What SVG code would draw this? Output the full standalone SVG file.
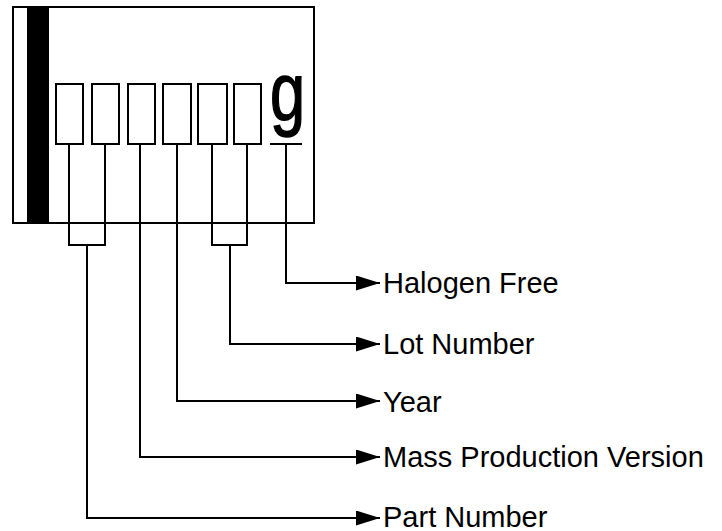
<svg xmlns="http://www.w3.org/2000/svg" width="722" height="531" viewBox="0 0 722 531">
<style>
.ln{fill:none;stroke:#000;stroke-width:2}
.bx{fill:#fff;stroke:#000;stroke-width:2}
.lbl{font-family:"Liberation Sans",Arial,sans-serif;font-size:29px;fill:#000}
</style>
<defs>
<marker id="arr" markerUnits="userSpaceOnUse" viewBox="0 0 24 15" refX="24" refY="7.5" markerWidth="24" markerHeight="15" orient="auto">
<path d="M0,0 L24,7.5 L0,15 z" fill="#000"/>
</marker>
</defs>
<rect width="722" height="531" fill="#fff"/>
<g id="chip">
<rect class="bx" x="13" y="7" width="301" height="216"/>
<rect x="27" y="7" width="22" height="216" fill="#000"/>
</g>
<g id="digits">
<rect class="bx" x="56" y="84" width="27" height="60"/>
<rect class="bx" x="92" y="84" width="27" height="60"/>
<rect class="bx" x="128" y="84" width="27" height="60"/>
<rect class="bx" x="163" y="84" width="28" height="60"/>
<rect class="bx" x="198" y="84" width="29" height="60"/>
<rect class="bx" x="234" y="84" width="27" height="60"/>
</g>
<g id="g-mark">
<text transform="translate(270,120) scale(0.78,1)" font-family="Liberation Sans,Arial,sans-serif" font-size="81" stroke="#000" stroke-width="1.5">g</text>
<line class="ln" x1="270" y1="144" x2="302" y2="144"/>
</g>
<g id="connectors">
<path class="ln" d="M69,144 V245 H105 V144"/>
<path class="ln" d="M87,245 V518 H380" marker-end="url(#arr)"/>
<path class="ln" d="M140,144 V457 H380" marker-end="url(#arr)"/>
<path class="ln" d="M177,144 V401 H380" marker-end="url(#arr)"/>
<path class="ln" d="M212,144 V245 H247 V144"/>
<path class="ln" d="M230,245 V344 H380" marker-end="url(#arr)"/>
<path class="ln" d="M286,144 V283 H380" marker-end="url(#arr)"/>
</g>
<g id="label-halogen"><text class="lbl" x="383" y="293">Halogen Free</text></g>
<g id="label-lot"><text class="lbl" x="383" y="354">Lot Number</text></g>
<g id="label-year"><text class="lbl" x="383" y="412">Year</text></g>
<g id="label-mass"><text class="lbl" x="383" y="467">Mass Production Version</text></g>
<g id="label-part"><text class="lbl" x="383" y="527">Part Number</text></g>
</svg>
